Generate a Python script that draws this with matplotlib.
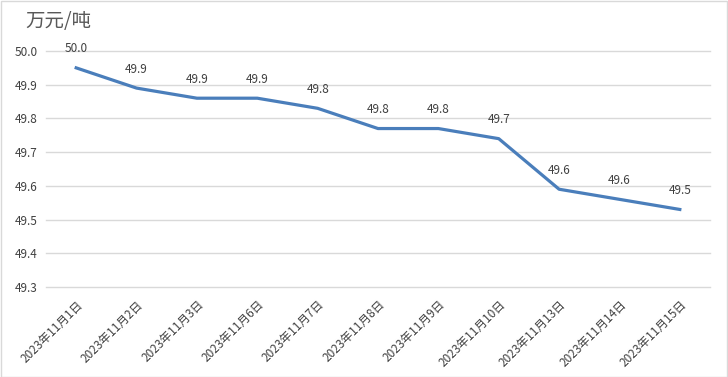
import matplotlib
matplotlib.use("Agg")
import matplotlib.pyplot as plt
from matplotlib.patches import Rectangle

plt.rcParams['font.family'] = ['Noto Sans CJK SC', 'DejaVu Sans']

dates = ["2023年11月1日", "2023年11月2日", "2023年11月3日", "2023年11月6日", "2023年11月7日",
         "2023年11月8日", "2023年11月9日", "2023年11月10日", "2023年11月13日", "2023年11月14日",
         "2023年11月15日"]
prices = [49.95, 49.89, 49.86, 49.86, 49.83, 49.77, 49.77, 49.74, 49.59, 49.56, 49.53]
yticks = [49.3, 49.4, 49.5, 49.6, 49.7, 49.8, 49.9, 50.0]

fig = plt.figure(figsize=(7.28, 3.77), dpi=100)
ax = fig.add_axes([46/728, 1 - 287/377, (710-46)/728, (287-51)/377])

x = list(range(len(dates)))
ax.plot(x, prices, color='#4a7ebb', linewidth=2.3, solid_joinstyle='round', zorder=3)
for xi, v in zip(x, prices):
    ax.annotate(f"{v:.1f}", (xi, v), xytext=(0, 9), textcoords='offset points',
                ha='center', va='bottom', fontsize=8.5, color='#404040')

ax.set_xlim(-0.5, len(dates) - 0.5)
ax.set_ylim(49.3, 50.0)
ax.set_yticks(yticks)
ax.set_yticklabels([f"{t:.1f}" for t in yticks], fontsize=8.5, color='#404040')
ax.set_xticks(x)
ax.set_xticklabels(dates, rotation=45, ha='right', rotation_mode='anchor', fontsize=8.5, color='#404040')
ax.tick_params(axis='both', length=0)
ax.tick_params(axis='x', pad=8)
ax.tick_params(axis='y', pad=6)
ax.grid(axis='y', color='#d9d9d9', linewidth=1)
for gl in ax.get_ygridlines():
    gl.set_clip_on(False)
ax.set_axisbelow(True)
for s in ax.spines.values():
    s.set_visible(False)

fig.text(25/728, 1 - 21/377, "万元/吨", fontsize=14, color='#595959', va='center', ha='left')
fig.patches.append(Rectangle((0.5/728, 0.5/377), 1 - 1.5/728, 1 - 1.5/377, transform=fig.transFigure,
                             fill=False, edgecolor='#d9d9d9', linewidth=1))

fig.savefig("out.png", dpi=100)
